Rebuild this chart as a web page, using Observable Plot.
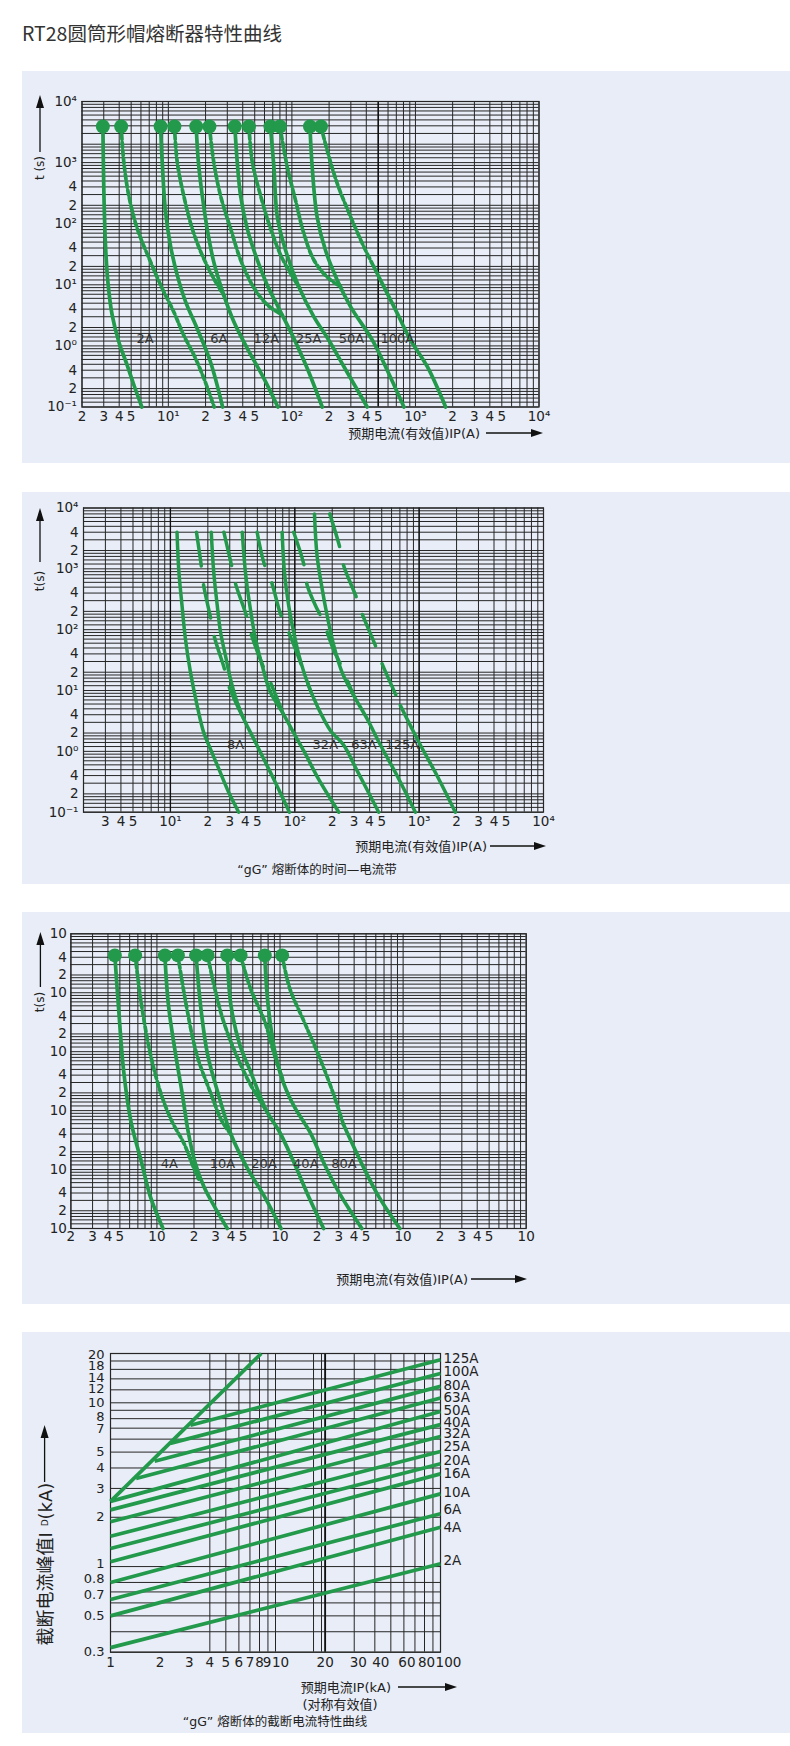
<!DOCTYPE html>
<html><head><meta charset="utf-8">
<script src="https://cdn.jsdelivr.net/npm/d3@7"></script>
<script src="https://cdn.jsdelivr.net/npm/@observablehq/plot@0.6"></script>
<style>
body{margin:0;background:#fff;}
#root{position:relative;width:790px;height:1746px;overflow:hidden;background:#fff}
.title{position:absolute;left:22px;top:19px;line-height:28px;font-size:19.5px;font-family:'Noto Sans CJK SC',sans-serif;color:#333;white-space:nowrap}
.panel{position:absolute;left:22px;width:768px;background:#e8edf7}
.panel svg{position:absolute;left:0;top:0;overflow:visible}
</style></head><body><div id="root"><div class="title">RT28圆筒形帽熔断器特性曲线</div></div>
<script>
// ================= DATA =================
// ---- Panel 1 : time-current (RT28) ----
const p1Ratings = ["2A","6A","12A","25A","50A","100A"];
const p1LabelI = [6.49, 25.6, 62.1, 137, 303, 713];
const p1LabelT = 1.29;
const p1DotI = [2.95, 4.15, 8.65, 11.2, 16.8, 21.5, 34.5, 44.9, 67, 80, 140, 172];
const p1DotT = 3900;
const p1S2A = [[2.95,3900],[3.01,291],[3.1,44],[3.24,11.1],[3.51,3.18],[3.97,1.17],[4.64,0.485],[5.26,0.229],[6.1,0.1]];
const p1D2A = [[4.15,3900],[4.36,1020],[4.78,291],[5.6,83],[7.18,23.7],[8.92,8.7],[11.07,3.6],[13.3,1.5],[16.1,0.71],[19.4,0.294],[23.5,0.1]];
const p1S6A = [[8.65,3900],[8.92,1020],[9.49,155],[10.4,44],[11.8,14.4],[13.8,5.26],[17.1,1.93],[21.9,0.55],[27.5,0.1]];
const p1D6A = [[11.2,3900],[11.8,1020],[13.3,291],[15.6,83],[18.8,30.5],[23.3,12.7],[28.1,6.76]];
const p1S12A = [[16.8,3900],[17.5,1020],[18.8,291],[20.6,83],[23.3,23.7],[28.1,6.76],[33.9,2.48],[43.5,0.91],[59.3,0.294],[77,0.1]];
const p1D12A = [[21.5,3900],[23.3,1020],[26.4,291],[31.9,83],[39,23.7],[50,8.5],[64,4.6],[83.4,3.2]];
const p1S25A = [[34.5,3900],[36.1,1020],[38.4,291],[43.5,83],[50.8,30.5],[63.2,9.85],[78.5,4.1],[100.7,1.5],[133,0.43],[176,0.1]];
const p1D25A = [[44.9,3900],[47.8,1020],[55.7,291],[67.2,83],[83.6,26.9],[113.9,9.25]];
const p1S50A = [[67,3900],[71.5,843],[76.2,129],[88.9,36.7],[113.9,9.25],[150.7,2.99],[199,1.24],[264,0.456],[407,0.1]];
const p1D50A = [[80,3900],[91.8,843],[107,241],[125,68.9],[151,25.2],[193,13.4],[247.7,9.3]];
const p1S100A = [[140,3900],[146,843],[160,129],[187,36.7],[233,11.9],[299,4.36],[448,1.24],[573,0.456],[807,0.1]];
const p1D100A = [[172,3900],[193,1583],[233,452],[299,129],[383,41.6],[461,19.6]];
const p1T100A = [[461,19.6],[556,9.25],[713,3.4],[914,1.24],[1248,0.456],[1755,0.1]];
const p1XTicks = [2,3,4,5,10,20,30,40,50,100,200,300,400,500,1000,2000,3000,4000,5000,10000];
const p1XTickLabels = ["2","3","4","5","10¹","2","3","4","5","10²","2","3","4","5","10³","2","3","4","5","10⁴"];
const p1YTicks = [10000,1000,400,200,100,40,20,10,4,2,1,0.4,0.2,0.1];
const p1YTickLabels = ["10⁴","10³","4","2","10²","4","2","10¹","4","2","10⁰","4","2","10⁻¹"];

// ---- Panel 2 : "gG" time-current bands ----
const p2Ratings = ["8A","32A","63A","125A"];
const p2LabelI = [33.4, 176, 360, 731];
const p2LabelT = 1.26;
const p2S1 = [[11.3,4000],[11.7,880],[12.4,249],[13.2,70.6],[14.5,19.9],[16.4,5.65],[18.5,2.05],[21,1.09],[24.5,0.514],[29.4,0.212],[35.4,0.1]];
const p2D1 = [[16.2,4000],[17.7,1133],[18.5,531],[21,160],[22.6,75],[27.2,22.6],[29.4,12],[38.9,3.41]];
const p2S2 = [[21.3,4000],[22.3,880],[23.8,249],[25.3,90.6],[27.7,37.5],[30.4,15.5],[34.4,6.4],[38.9,3.41],[46.8,1.6],[56.3,0.75],[69.8,0.309],[90.6,0.1]];
const p2D2 = [[26.9,4000],[30.8,1208],[33.4,566],[40.8,171],[44.6,85.3],[54.6,27.4],[63.7,13.6],[80,4.3]];
const p2S3 = [[37.8,4000],[40.1,880],[43.5,249],[48.3,70.6],[54.7,25.7],[63.7,9.33],[79.6,4.38],[97.5,2.05],[120,0.96],[155,0.352],[226,0.1]];
const p2D3 = [[49.8,4000],[56.3,1285],[65.7,566],[76.7,182],[89.3,90.6],[111,29.1],[132,10.7]];
const p2S4 = [[79.1,4000],[82.6,880],[89.3,249],[99.3,80],[111,31],[129,12],[151,5.65],[194,2.19],[247,1.27],[317,0.482],[473,0.1]];
const p2D4 = [[98,4000],[118,1208],[126,531],[151,220],[166,151],[206,45.3],[226,31],[298,8.24]];
const p2S5 = [[144,8000],[151,1656],[166,469],[182,171],[206,54.7],[240,19.9],[298,8.24],[382,3.41],[488,1.27],[665,0.398],[933,0.1]];
const p2D5 = [[191,8000],[230,2265],[247,1133],[313,341],[348,182],[445,54.7],[504,27.4],[644,8.8],[707,5.65]];
const p2T5 = [[707,5.65],[851,2.65],[1023,1.27],[1394,0.398],[1955,0.1]];
const p2XTicks = [3,4,5,10,20,30,40,50,100,200,300,400,500,1000,2000,3000,4000,5000,10000];
const p2XTickLabels = ["3","4","5","10¹","2","3","4","5","10²","2","3","4","5","10³","2","3","4","5","10⁴"];
const p2YTicks = [10000,4000,2000,1000,400,200,100,40,20,10,4,2,1,0.4,0.2,0.1];
const p2YTickLabels = ["10⁴","4","2","10³","4","2","10²","4","2","10¹","4","2","10⁰","4","2","10⁻¹"];

// ---- Panel 3 : time-current (second series) ----
const p3Ratings = ["4A","10A","20A","40A","80A"];
const p3LabelI = [12.6, 34.1, 74.2, 162, 331];
const p3LabelT = 1.27;
const p3DotI = [4.55, 6.65, 11.6, 14.8, 20.8, 25.8, 37.3, 47.8, 75.2, 104];
const p3DotT = 4300;
const p3S4A = [[4.55,4300],[4.86,618],[5.37,46.4],[6.14,6.65],[7.5,1.32],[8.87,0.34],[11.2,0.1]];
const p3D4A = [[6.65,4300],[7.5,618],[8.87,88.7],[10.84,18.8],[13.2,6.65],[16.7,2.69],[19.8,1.09],[21.8,0.69]];
const p3S10A = [[11.6,4300],[12.4,618],[14.2,88.7],[16.1,18.8],[17.9,4.51],[20.4,1.32],[24.2,0.501],[29.5,0.231],[37.3,0.1]];
const p3D10A = [[14.8,4300],[17.3,618],[21.1,88.7],[27.6,18.8],[33.7,6.65],[39.9,3.97]];
const p3S20A = [[20.8,4300],[22.6,618],[25.8,88.7],[31.6,18.8],[39.9,3.97],[53.8,1.09],[75.2,0.34],[102,0.1]];
const p3D20A = [[25.8,4300],[29.5,1181],[34.8,323],[44.1,88.7],[57.5,27.7],[77.8,9.8]];
const p3S40A = [[37.3,4300],[39.9,618],[47.1,131],[57.5,46.4],[77.8,9.8],[98.2,4.51],[128,1.41],[167,0.386],[226,0.1]];
const p3D40A = [[47.8,4300],[57.5,1181],[75.2,323],[90,88.7],[104.6,35]];
const p3S80A = [[75.2,4300],[77.8,1181],[83,323],[91.9,88.7],[108,27.7],[132,11.2],[179,3.97],[226,1.32],[306,0.386],[462,0.1]];
const p3D80A = [[104,4300],[120,1181],[157,323],[205,88.7],[267,21.3],[327,5.85]];
const p3T80A = [[327,5.85],[456,1.32],[638,0.34],[940,0.1]];
const p3XTicks = [2,3,4,5,10,20,30,40,50,100,200,300,400,500,1000,2000,3000,4000,5000,10000];
const p3XTickLabels = ["2","3","4","5","10","2","3","4","5","10","2","3","4","5","10","2","3","4","5","10"];
const p3YTicks = [10000,4000,2000,1000,400,200,100,40,20,10,4,2,1,0.4,0.2,0.1];
const p3YTickLabels = ["10","4","2","10","4","2","10","4","2","10","4","2","10","4","2","10"];

// ---- Panel 4 : cut-off current ----
const p4Ratings = ["2A","4A","6A","10A","16A","20A","25A","32A","40A","50A","63A","80A","100A","125A"];
const p4StartIp = [1,1,1,1,1,1,1,1,1,1,1.43,1.85,2.3,3.05];
const p4StartId = [0.32,0.5,0.63,0.8,1.07,1.29,1.53,1.88,2.22,2.5,3.45,4.4,5.65,7.3];
const p4EndIp = 100;
const p4EndId = [1.04,1.74,2.1,2.78,3.68,4.24,5.04,6.22,7.36,8.84,10.7,12.6,15.1,18.3];
const p4LabelId = [1.09,1.72,2.22,2.84,3.68,4.44,5.43,6.46,7.6,8.97,10.7,12.7,15.4,18.5];
const p4BoundIp = [1, 8.2];
const p4BoundId = [2.5, 20];
const p4XTicks = [1,2,3,4,5,6,7,8,9,10,20,30,40,60,80,100];
const p4XTickLabels = ["1","2","3","4","5","6","7","8","9","10","20","30","40","60","80","100"];
const p4YTicks = [0.3,0.5,0.7,0.8,1,2,3,4,5,7,8,10,12,14,18,20];
const p4YTickLabels = ["0.3","0.5","0.7","0.8","1","2","3","4","5","7","8","10","12","14","18","20"];

// ================= DRAWING =================
const GREEN = "#22994b";
const GRID = "#262626";
const FONT = "'DejaVu Sans','Noto Sans CJK SC',sans-serif";
const root = document.getElementById("root");
// small label nudges (styling only) where tick labels would collide
const p4XNudge = new Map([[10, 5], [9, -1], [30, 4], [40, 6], [60, 3], [80, 2], [100, 8]]);
const p4YNudge = new Map([[0.8, -4], [0.7, 3], [1, -3], [20, 1], [18, 5], [14, -1], [12, -1], [8, -2], [7, 1]]);

function logGrid(lo, hi, mults) {
  const out = [];
  for (let e = -2; e <= 5; e++) for (const m of mults) {
    const v = +(m * Math.pow(10, e)).toPrecision(6);
    if (v >= lo - 1e-9 && v <= hi + 1e-9) out.push(v);
  }
  return out;
}
const gridX = [1,2,3,4,5,6,7,8,9];
const gridYdense = [1,1.2,1.4,1.6,1.8,2,3,4,5,6,7,8,9];

function groupBy(ticks, labels, nudge) {
  const groups = new Map();
  ticks.forEach((v, i) => {
    const n = nudge ? (nudge.get(v) || 0) : 0;
    if (!groups.has(n)) groups.set(n, []);
    groups.get(n).push({v, s: labels[i]});
  });
  return [...groups];
}

function panel(cfg) {
  const {top, height, frame, xDomain, yDomain, xGridV, yGridV, xTicks, xLabels, yTicks, yLabels, marks, xPad, yPad, fontSize, yFontSize, extraGrid, xNudge, yNudge} = cfg;
  const div = document.createElement("div");
  div.className = "panel";
  div.style.top = top + "px";
  div.style.height = height + "px";
  root.appendChild(div);
  const xTextMarks = groupBy(xTicks, xLabels, xNudge).map(([n, arr]) =>
    Plot.text(arr, {x: d => d.v, text: d => d.s, frameAnchor: "bottom", lineAnchor: "top", dy: xPad, dx: n, fontSize, fill: "#222"}));
  const yTextMarks = groupBy(yTicks, yLabels, yNudge).map(([n, arr]) =>
    Plot.text(arr, {y: d => d.v, text: d => d.s, frameAnchor: "left", textAnchor: "end", lineAnchor: "middle", dx: -yPad, dy: n, fontSize: yFontSize || fontSize, fill: "#222"}));
  const svg = Plot.plot({
    width: 768, height,
    marginLeft: frame.l - 22, marginRight: 790 - frame.r,
    marginTop: frame.t - top, marginBottom: top + height - frame.b,
    x: {type: "log", domain: xDomain, axis: null},
    y: {type: "log", domain: yDomain, axis: null},
    style: {background: "transparent", fontFamily: FONT, fontSize: fontSize + "px", color: "#222", overflow: "visible"},
    marks: [
      Plot.ruleX(xGridV, {stroke: GRID, strokeWidth: 1}),
      Plot.ruleY(yGridV, {stroke: GRID, strokeWidth: 1}),
      ...(extraGrid || []),
      Plot.frame({stroke: GRID, strokeWidth: 1.2}),
      ...xTextMarks,
      ...yTextMarks,
      ...marks
    ]
  });
  div.appendChild(svg);
  return {g: d3.select(svg), top};
}

function txt(p, X, Y, s, o = {}) {
  const x = X - 22, y = Y - p.top;
  const t = p.g.append("text").attr("x", x).attr("y", y)
    .attr("text-anchor", o.anchor || "middle").attr("dominant-baseline", "central")
    .attr("font-size", o.size || 13).attr("font-family", o.family || FONT).attr("fill", "#222");
  if (o.rotate) t.attr("transform", `rotate(${o.rotate},${x},${y})`);
  if (s != null) t.text(s);
  return t;
}
function arrowRight(p, X1, X2, Y) {
  const y = Y - p.top;
  p.g.append("line").attr("x1", X1 - 22).attr("x2", X2 - 22 - 8).attr("y1", y).attr("y2", y).attr("stroke", "#111").attr("stroke-width", 1.3);
  p.g.append("path").attr("d", `M${X2 - 22},${y} L${X2 - 22 - 12},${y - 4} L${X2 - 22 - 12},${y + 4} Z`).attr("fill", "#111");
}
function arrowUp(p, X, Yb, Yt) {
  const x = X - 22;
  p.g.append("line").attr("x1", x).attr("x2", x).attr("y1", Yb - p.top).attr("y2", Yt - p.top + 8).attr("stroke", "#111").attr("stroke-width", 1.3);
  p.g.append("path").attr("d", `M${x},${Yt - p.top} L${x - 4},${Yt - p.top + 13} L${x + 4},${Yt - p.top + 13} Z`).attr("fill", "#111");
}

const X = d => d[0], Y = d => d[1];
const solid = (c, w) => Plot.line(c, {x: X, y: Y, stroke: GREEN, strokeWidth: w, curve: "catmull-rom"});
const dashed = (c, w, da) => Plot.line(c, {x: X, y: Y, stroke: GREEN, strokeWidth: w, curve: "catmull-rom", strokeDasharray: da});

// ---- Panel 1 ----
{
  const solids = [p1S2A, p1S6A, p1S12A, p1S25A, p1S50A, p1S100A, p1T100A];
  const dashes = [p1D2A, p1D6A, p1D12A, p1D25A, p1D50A, p1D100A];
  const p = panel({
    top: 71, height: 392, frame: {l: 81.5, r: 538.5, t: 101, b: 406.5},
    xDomain: [2, 10000], yDomain: [0.1, 10000],
    xGridV: logGrid(2, 10000, gridX), yGridV: logGrid(0.1, 10000, gridYdense),
    extraGrid: [Plot.ruleX([500], {stroke: "#111", strokeWidth: 1.5})],
    xTicks: p1XTicks, xLabels: p1XTickLabels, yTicks: p1YTicks, yLabels: p1YTickLabels,
    xPad: 4, yPad: 5, fontSize: 13.5,
    marks: [
      ...dashes.map(c => dashed(c, 3.7, "5,3")),
      ...solids.map(c => solid(c, 3.7)),
      Plot.dot(p1DotI, {x: d => d, y: () => p1DotT, r: 7, fill: GREEN}),
      Plot.text(p1Ratings, {x: (d, i) => p1LabelI[i], y: () => p1LabelT, text: d => d, fontSize: 13, fill: "#333"})
    ]
  });
  txt(p, 480, 433, "预期电流(有效值)IP(A)", {anchor: "end", size: 13});
  arrowRight(p, 486, 543, 433);
  arrowUp(p, 40, 152, 95);
  txt(p, 40, 168, "t (s)", {rotate: -90, size: 12});
}

// ---- Panel 2 ----
{
  const solids = [p2S1, p2S2, p2S3, p2S4, p2S5, p2T5];
  const dashes = [p2D1, p2D2, p2D3, p2D4, p2D5];
  const p = panel({
    top: 492, height: 392, frame: {l: 83, r: 543, t: 507.5, b: 811.7},
    xDomain: [2, 10000], yDomain: [0.1, 10000],
    xGridV: logGrid(2, 10000, gridX), yGridV: logGrid(0.1, 10000, gridYdense),
    extraGrid: [Plot.ruleX([10, 100, 1000], {stroke: "#111", strokeWidth: 1.3})],
    xTicks: p2XTicks, xLabels: p2XTickLabels, yTicks: p2YTicks, yLabels: p2YTickLabels,
    xPad: 4, yPad: 5, fontSize: 13.5,
    marks: [
      ...dashes.map(c => dashed(c, 3.5, "34,19")),
      ...solids.map(c => solid(c, 3.5)),
      Plot.text(p2Ratings, {x: (d, i) => p2LabelI[i], y: () => p2LabelT, text: d => d, fontSize: 13, fill: "#333"})
    ]
  });
  txt(p, 487, 846, "预期电流(有效值)IP(A)", {anchor: "end", size: 13});
  arrowRight(p, 490, 546, 846);
  txt(p, 317, 869, "“gG” 熔断体的时间—电流带", {size: 12.5});
  arrowUp(p, 40, 562, 508);
  txt(p, 40, 581, "t(s)", {rotate: -90, size: 12});
}

// ---- Panel 3 ----
{
  const solids = [p3S4A, p3S10A, p3S20A, p3S40A, p3S80A, p3T80A];
  const dashes = [p3D4A, p3D10A, p3D20A, p3D40A, p3D80A];
  const p = panel({
    top: 912, height: 392, frame: {l: 70.4, r: 525.7, t: 933.3, b: 1228},
    xDomain: [2, 10000], yDomain: [0.1, 10000],
    xGridV: logGrid(2, 10000, gridX), yGridV: logGrid(0.1, 10000, gridYdense),
    xTicks: p3XTicks, xLabels: p3XTickLabels, yTicks: p3YTicks, yLabels: p3YTickLabels,
    xPad: 3, yPad: 4, fontSize: 13.5,
    marks: [
      ...dashes.map(c => dashed(c, 3.7, "5,3")),
      ...solids.map(c => solid(c, 3.7)),
      Plot.dot(p3DotI, {x: d => d, y: () => p3DotT, r: 7, fill: GREEN}),
      Plot.text(p3Ratings, {x: (d, i) => p3LabelI[i], y: () => p3LabelT, text: d => d, fontSize: 13, fill: "#333"})
    ]
  });
  txt(p, 468, 1279, "预期电流(有效值)IP(A)", {anchor: "end", size: 13});
  arrowRight(p, 471, 527, 1279);
  arrowUp(p, 40.4, 987, 932);
  txt(p, 40.4, 1002, "t(s)", {rotate: -90, size: 12});
}

// ---- Panel 4 ----
{
  const p = panel({
    top: 1332, height: 401, frame: {l: 110, r: 440, t: 1353, b: 1651.7},
    xDomain: [1, 100], yDomain: [0.3, 20],
    xGridV: [4,5,6,7,8,9,10,17,19,20,30,40,50,60,70,80,90,100],
    yGridV: [0.3,0.4,0.5,0.6,0.7,0.8,1,2,3,4,5,6,7,8,9,10,12,14,16,18,20],
    extraGrid: [Plot.ruleX([20], {stroke: "#111", strokeWidth: 1.8})],
    xTicks: p4XTicks, xLabels: p4XTickLabels, yTicks: p4YTicks, yLabels: p4YTickLabels,
    xNudge: p4XNudge, yNudge: p4YNudge,
    xPad: 5, yPad: 6, fontSize: 13.5, yFontSize: 13,
    marks: [
      Plot.link(p4Ratings, {x1: (d, i) => p4StartIp[i], y1: (d, i) => p4StartId[i], x2: () => p4EndIp, y2: (d, i) => p4EndId[i], stroke: GREEN, strokeWidth: 3.7}),
      Plot.link([0], {x1: () => p4BoundIp[0], y1: () => p4BoundId[0], x2: () => p4BoundIp[1], y2: () => p4BoundId[1], stroke: GREEN, strokeWidth: 3.7}),
      Plot.text(p4Ratings, {x: () => p4EndIp, y: (d, i) => p4LabelId[i], text: d => d, textAnchor: "start", dx: 3, fontSize: 13.5, fill: "#222"})
    ]
  });
  txt(p, 391, 1687, "预期电流IP(kA)", {anchor: "end", size: 13});
  arrowRight(p, 398, 457, 1687);
  txt(p, 340, 1704, "(对称有效值)", {size: 13});
  txt(p, 275, 1721, "“gG” 熔断体的截断电流特性曲线", {size: 12.5});
  arrowUp(p, 44.6, 1482, 1425);
  const t = txt(p, 44.6, 1564, null, {rotate: -90, size: 18});
  t.append("tspan").text("截断电流峰值I ");
  t.append("tspan").attr("font-size", 9).text("D");
  t.append("tspan").text("(kA)");
}
</script></body></html>
